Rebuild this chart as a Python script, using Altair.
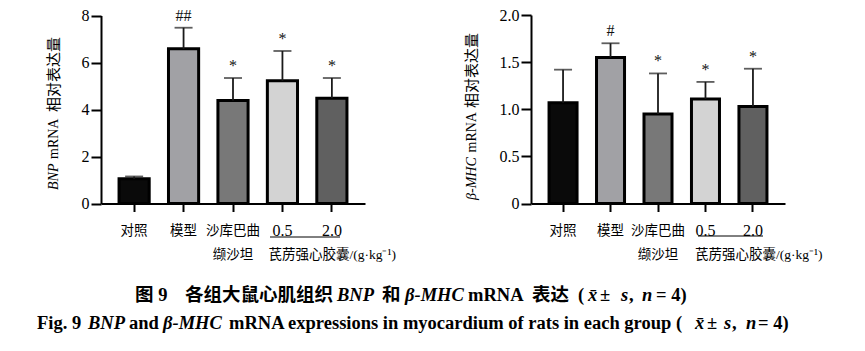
import altair as alt
import pandas as pd

# ---------------- data ----------------
groups = ["对照", "模型", "沙库巴曲", "0.5", "2.0"]
bar_colors = ["#0a0a0a", "#a1a1a5", "#787878", "#d3d3d3", "#606060"]

bnp_mean = [1.05, 6.58, 4.38, 5.22, 4.48]
bnp_sd = [0.10, 0.90, 0.96, 1.27, 0.86]
bnp_sig = ["", "##", "*", "*", "*"]
bnp_ticks = [0, 2, 4, 6, 8]

mhc_mean = [1.07, 1.55, 0.95, 1.11, 1.03]
mhc_sd = [0.35, 0.15, 0.43, 0.18, 0.40]
mhc_sig = ["", "#", "*", "*", "*"]
mhc_ticks = [0, 0.5, 1.0, 1.5, 2.0]

sub_label_1 = "缬沙坦"
sub_label_2 = "芪苈强心胶囊/(g·kg⁻¹)"

SERIF = "Liberation Serif, Noto Sans CJK SC"
W, H = 865, 351
AXIS_Y = 203.5
CAP = 18.5

one = pd.DataFrame({"k": [0]})


def txt(s, x, y, size, weight="normal", style="normal", angle=0,
        align="left", baseline="middle"):
    return alt.Chart(one).mark_text(
        text=s, fontSize=size, fontWeight=weight, fontStyle=style,
        angle=angle, align=align, baseline=baseline, font=SERIF, color="black"
    ).encode(x=alt.value(x), y=alt.value(y))


def panel(mean, sd, sig, ticks, ymax, xrange, ytop, pin, pout, label_expr,
          sub_dx, uline):
    df = pd.DataFrame({
        "group": groups,
        "mean": mean,
        "top": [m + s for m, s in zip(mean, sd)],
        "sig": sig,
    })
    xs = alt.Scale(domain=groups, range=xrange, paddingInner=pin, paddingOuter=pout)
    ys = alt.Scale(domain=[0, ymax], range=[AXIS_Y, ytop], nice=False, zero=True)
    xaxis = alt.Axis(
        orient="bottom", offset=-(H - AXIS_Y), title=None, labelAngle=0,
        domainColor="black", domainWidth=2, tickColor="black", tickWidth=2,
        tickSize=8, labelColor="black", labelFont=SERIF,
        labelFontSize={"condition": {"test": "datum.value == '0.5' || datum.value == '2.0'",
                                     "value": 16}, "value": 13.5},
        labelBaseline="middle", labelPadding=19, grid=False,
    )
    yaxis = alt.Axis(
        orient="left", offset=-xrange[0], title=None, values=ticks,
        labelExpr=label_expr, domainColor="black", domainWidth=2,
        tickColor="black", tickWidth=2, tickSize=10, labelColor="black",
        labelFont=SERIF, labelFontSize=16, labelPadding=2, grid=False,
    )
    base = alt.Chart(df)
    bars = base.mark_bar(stroke="black", strokeWidth=3).encode(
        x=alt.X("group:N", scale=xs, axis=xaxis),
        y=alt.Y("mean:Q", scale=ys, axis=yaxis),
        color=alt.Color("group:N", scale=alt.Scale(domain=groups, range=bar_colors),
                        legend=None),
    )
    err = base.mark_rule(color="#1a1a1a", strokeWidth=1.8).encode(
        x="group:N", y="mean:Q", y2="top:Q")
    cap = base.mark_tick(color="#1a1a1a", thickness=1.8, size=18).encode(
        x="group:N", y="top:Q")
    stars = base.mark_text(font=SERIF, fontSize=16, baseline="alphabetic", dy=-7,
                           color="#111111", fill="#111111").encode(
        x="group:N", y="top:Q", text="sig:N")
    sub1 = alt.Chart(pd.DataFrame({"group": [groups[2]], "t": [sub_label_1]})).mark_text(
        font=SERIF, fontSize=13.5, color="black", baseline="middle").encode(
        x="group:N", y=alt.value(255), text="t:N")
    sub2 = alt.Chart(pd.DataFrame({"group": [groups[3]], "t": [sub_label_2]})).mark_text(
        font=SERIF, fontSize=13.5, color="black", baseline="middle", align="left",
        dx=sub_dx).encode(
        x="group:N", y=alt.value(255), text="t:N")
    under = alt.Chart(one).mark_rule(color="black", strokeWidth=1).encode(
        x=alt.value(uline[0]), x2=alt.value(uline[1]), y=alt.value(uline[2]))
    return alt.layer(bars, err, cap, stars, sub1, sub2, under)


left = panel(bnp_mean, bnp_sd, bnp_sig, bnp_ticks, 8, [101, 365], 15.5, 0.39, 0.365,
             "datum.label", -14, (270, 340, 237))
right = panel(mhc_mean, mhc_sd, mhc_sig, mhc_ticks, 2, [531, 785], 15, 0.41, 0.38,
              "datum.value == 0 ? '0' : format(datum.value, '.1f')", -10.5, (698, 763, 236))

texts = [
    # y titles
    txt("BNP", 54, 190, 14, style="italic", angle=270),
    txt("mRNA", 54, 159, 14, angle=270),
    txt("相对表达量", 54, 112, 15, angle=270),
    txt("β-MHC", 472, 200, 14, style="italic", angle=270),
    txt("mRNA", 472, 152.5, 14, angle=270),
    txt("相对表达量", 472, 108, 15, angle=270),
    # caption line 1
    txt("图 9", 135, 295, CAP, weight="bold"),
    txt("各组大鼠心肌组织", 185, 295, CAP, weight="bold"),
    txt("BNP", 337, 295, CAP, weight="bold", style="italic"),
    txt("和", 382, 295, CAP, weight="bold"),
    txt("β-MHC", 405, 295, CAP, weight="bold", style="italic"),
    txt("mRNA", 468, 295, CAP, weight="bold"),
    txt("表达", 532, 295, CAP, weight="bold"),
    txt("(", 578, 295, CAP, weight="bold"),
    txt("x\u0304", 588, 295, CAP, weight="bold", style="italic"),
    txt("±", 600, 295, CAP, weight="bold"),
    txt("s", 621, 295, CAP, weight="bold", style="italic"),
    txt(",", 629, 295, CAP, weight="bold"),
    txt("n", 642, 295, CAP, weight="bold", style="italic"),
    txt("= 4)", 656, 295, CAP, weight="bold"),
    # caption line 2
    txt("Fig. 9", 37, 323, CAP, weight="bold"),
    txt("BNP", 88, 323, CAP, weight="bold", style="italic"),
    txt("and", 129, 323, CAP, weight="bold"),
    txt("β-MHC", 163, 323, CAP, weight="bold", style="italic"),
    txt("mRNA expressions in myocardium of rats in each group (", 229, 323, CAP, weight="bold"),
    txt("x\u0304", 695, 323, CAP, weight="bold", style="italic"),
    txt("±", 707, 323, CAP, weight="bold"),
    txt("s", 724, 323, CAP, weight="bold", style="italic"),
    txt(",", 732, 323, CAP, weight="bold"),
    txt("n", 746, 323, CAP, weight="bold", style="italic"),
    txt("= 4)", 758, 323, CAP, weight="bold"),
]

chart = alt.layer(left, right, *texts).resolve_scale(
    x="independent", y="independent"
).properties(
    width=W, height=H, autosize=alt.AutoSizeParams(type="none"), padding=0,
    background="white",
).configure_view(stroke=None)

chart.save("out.html", embed_options={"renderer": "svg", "actions": False})
